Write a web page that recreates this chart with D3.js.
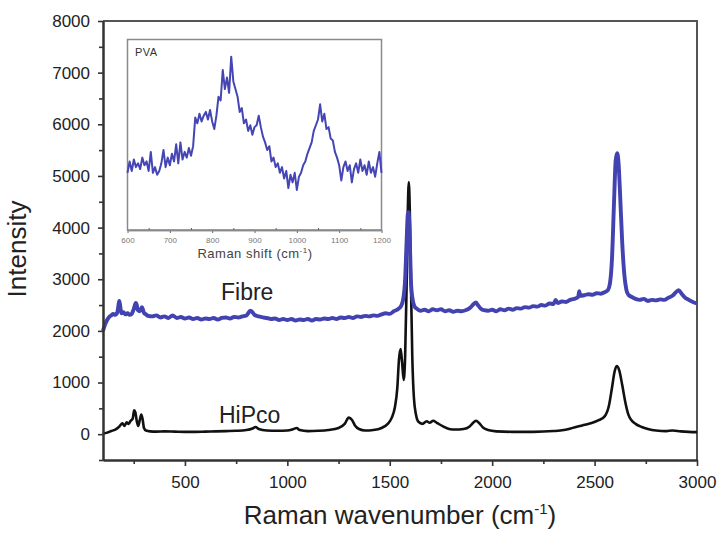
<!DOCTYPE html>
<html lang="en">
<head>
<meta charset="UTF-8">
<script src="https://cdn.jsdelivr.net/npm/d3@7/dist/d3.min.js"></script>
<title>Raman spectra</title>
<style>
  body { margin: 0; background: #fff; }
  svg { font-family: "Liberation Sans", Arial, sans-serif; }
</style>
</head>
<body>
<script>
// Main spectra: [Raman wavenumber (cm-1), intensity]
var hipco = [
  [100, 10], [120, 30], [140, 60], [160, 90], [180, 150], [195, 210], [205, 160],
  [215, 230], [225, 200], [235, 260], [245, 300], [252, 460], [258, 420], [265, 250],
  [272, 160], [280, 280], [287, 380], [293, 300], [300, 120], [310, 70], [330, 55],
  [360, 50], [400, 55], [450, 50], [500, 45], [550, 45], [600, 50], [650, 55],
  [700, 60], [750, 65], [800, 80], [830, 110], [845, 140], [860, 100], [900, 70],
  [950, 65], [1000, 70], [1030, 100], [1045, 120], [1060, 80], [1100, 60], [1150, 65],
  [1200, 80], [1250, 120], [1280, 200], [1300, 320], [1315, 280], [1330, 170],
  [1350, 100], [1380, 70], [1420, 80], [1460, 120], [1490, 200], [1510, 320],
  [1525, 520], [1537, 900], [1545, 1450], [1553, 1650], [1560, 1400], [1568, 1050],
  [1575, 1500], [1582, 2800], [1588, 4300], [1593, 4880], [1598, 4300], [1604, 2800],
  [1610, 1500], [1618, 700], [1628, 380], [1640, 240], [1660, 200], [1680, 250],
  [1695, 220], [1712, 260], [1730, 220], [1760, 150], [1790, 100], [1820, 90],
  [1860, 100], [1890, 150], [1910, 230], [1922, 260], [1935, 220], [1955, 130],
  [1980, 80], [2020, 55], [2100, 45], [2200, 45], [2300, 60], [2350, 80], [2400, 130],
  [2440, 170], [2480, 210], [2520, 270], [2550, 350], [2570, 550], [2585, 900],
  [2597, 1200], [2608, 1320], [2620, 1240], [2635, 950], [2650, 620], [2665, 380],
  [2680, 270], [2700, 200], [2730, 140], [2760, 100], [2800, 70], [2850, 60],
  [2880, 70], [2920, 55], [2960, 45], [3000, 40]
];

var fibre = [
  [100, 2000], [110, 2120], [120, 2210], [130, 2270], [140, 2300], [150, 2330],
  [160, 2310], [170, 2360], [180, 2580], [185, 2450], [190, 2340], [200, 2360],
  [210, 2320], [220, 2340], [230, 2310], [240, 2330], [250, 2420], [260, 2540],
  [265, 2500], [270, 2400], [280, 2380], [290, 2460], [300, 2350], [310, 2320],
  [320, 2290], [340, 2280], [360, 2300], [380, 2260], [400, 2280], [420, 2250],
  [440, 2300], [460, 2250], [480, 2270], [500, 2240], [520, 2260], [540, 2230],
  [560, 2250], [580, 2220], [600, 2240], [620, 2230], [640, 2250], [660, 2220],
  [680, 2250], [700, 2260], [720, 2240], [740, 2270], [760, 2260], [780, 2280],
  [800, 2300], [820, 2390], [830, 2360], [840, 2310], [860, 2280], [880, 2260],
  [900, 2250], [920, 2230], [940, 2240], [960, 2210], [980, 2230], [1000, 2210],
  [1020, 2230], [1040, 2200], [1060, 2220], [1080, 2210], [1100, 2230], [1120, 2200],
  [1140, 2230], [1160, 2220], [1180, 2240], [1200, 2230], [1220, 2250], [1240, 2230],
  [1260, 2260], [1280, 2250], [1300, 2270], [1320, 2250], [1340, 2280], [1360, 2270],
  [1380, 2290], [1400, 2280], [1420, 2300], [1440, 2290], [1460, 2320], [1480, 2340],
  [1500, 2330], [1520, 2380], [1540, 2420], [1555, 2480], [1565, 2600], [1575, 3000],
  [1582, 3700], [1588, 4250], [1592, 4300], [1597, 3900], [1603, 3000], [1610, 2650],
  [1620, 2480], [1635, 2420], [1650, 2390], [1670, 2410], [1690, 2380], [1710, 2420],
  [1730, 2400], [1750, 2420], [1770, 2380], [1790, 2400], [1810, 2370], [1830, 2390],
  [1850, 2380], [1870, 2400], [1890, 2440], [1910, 2520], [1920, 2550], [1930, 2500],
  [1945, 2430], [1960, 2400], [1980, 2390], [2000, 2410], [2020, 2380], [2040, 2420],
  [2060, 2400], [2080, 2430], [2100, 2410], [2120, 2440], [2140, 2430], [2160, 2460],
  [2180, 2450], [2200, 2480], [2220, 2470], [2240, 2500], [2260, 2490], [2280, 2530],
  [2300, 2520], [2310, 2600], [2320, 2540], [2340, 2570], [2360, 2560], [2380, 2600],
  [2400, 2620], [2420, 2660], [2425, 2770], [2430, 2680], [2450, 2690], [2470, 2710],
  [2490, 2700], [2510, 2730], [2530, 2720], [2550, 2750], [2565, 2790], [2575, 2920],
  [2585, 3400], [2595, 4500], [2603, 5300], [2610, 5440], [2617, 5250], [2625, 4600],
  [2635, 3700], [2645, 3100], [2655, 2800], [2665, 2700], [2680, 2660], [2700, 2620],
  [2720, 2600], [2740, 2620], [2760, 2580], [2780, 2600], [2800, 2590], [2820, 2610],
  [2840, 2600], [2860, 2640], [2880, 2680], [2900, 2760], [2910, 2790], [2925, 2720],
  [2940, 2650], [2960, 2600], [2980, 2560], [3000, 2530]
];

// Inset PVA spectrum, 600..1200 cm-1 every 5 cm-1 (arbitrary units)
var pvaStart = 600, pvaStep = 5;
var pva = [
  30, 36, 31, 37, 33, 35, 32, 38, 34, 36, 31, 41, 30, 33, 29, 31, 35, 42, 33, 38,
  34, 40, 36, 45, 35, 46, 37, 41, 38, 43, 39, 44, 59, 56, 61, 57, 60, 62, 58, 63,
  57, 53, 60, 70, 68, 84, 74, 80, 72, 91, 78, 74, 70, 62, 64, 56, 58, 52, 55, 50,
  54, 55, 60, 54, 49, 46, 42, 44, 36, 38, 33, 35, 30, 33, 27, 31, 22, 29, 25, 30,
  21, 28, 30, 34, 36, 40, 43, 46, 52, 55, 58, 66, 57, 61, 53, 54, 48, 47, 41, 38,
  34, 26, 33, 36, 31, 34, 25, 32, 35, 30, 37, 31, 34, 29, 36, 30, 33, 28, 35, 41,
  30
];

var xTicks = [500, 1000, 1500, 2000, 2500, 3000];
var xMinor = [250, 750, 1250, 1750, 2250, 2750];
var yTicks = [0, 1000, 2000, 3000, 4000, 5000, 6000, 7000, 8000];
var yMinor = [-500, 500, 1500, 2500, 3500, 4500, 5500, 6500, 7500];
var insetTicks = [600, 700, 800, 900, 1000, 1100, 1200];
var insetMinor = [650, 750, 850, 950, 1050, 1150];

var W = 720, H = 539;
var mLeft = 103, mRight = 697, mTop = 21, mBottom = 460;

var svg = d3.select("body").append("svg")
    .attr("width", W)
    .attr("height", H);

var x = d3.scaleLinear().domain([100, 3000]).range([mLeft, mRight]);
var y = d3.scaleLinear().domain([-500, 8000]).range([mBottom, mTop]);

var line = d3.line()
    .x(function(d) { return x(d[0]); })
    .y(function(d) { return y(d[1]); })
    .curve(d3.curveMonotoneX);

// frame (top and right)
svg.append("path")
    .attr("d", "M" + mLeft + "," + mTop + "H" + mRight + "V" + mBottom)
    .attr("fill", "none")
    .attr("stroke", "#555")
    .attr("stroke-width", 2);

// curves
svg.append("path")
    .datum(hipco)
    .attr("d", line)
    .attr("fill", "none")
    .attr("stroke", "#111")
    .attr("stroke-width", 2.6)
    .attr("stroke-linejoin", "round");

svg.append("path")
    .datum(fibre)
    .attr("d", line)
    .attr("fill", "none")
    .attr("stroke", "#4242b0")
    .attr("stroke-width", 3.9)
    .attr("stroke-linejoin", "round");

// axes
var xAxis = svg.append("g")
    .attr("transform", "translate(0," + mBottom + ")")
    .call(d3.axisBottom(x).tickValues(xTicks).tickFormat(d3.format("d"))
        .tickSize(6).tickPadding(10).tickSizeOuter(0));
svg.append("g")
    .attr("transform", "translate(0," + mBottom + ")")
    .call(d3.axisBottom(x).tickValues(xMinor).tickSize(4).tickFormat("").tickSizeOuter(0));

var yAxis = svg.append("g")
    .attr("transform", "translate(" + mLeft + ",0)")
    .call(d3.axisLeft(y).tickValues(yTicks).tickFormat(d3.format("d"))
        .tickSize(5).tickPadding(8).tickSizeOuter(0));
svg.append("g")
    .attr("transform", "translate(" + mLeft + ",0)")
    .call(d3.axisLeft(y).tickValues(yMinor).tickSize(4).tickFormat("").tickSizeOuter(0));

svg.selectAll(".domain").attr("stroke", "#333").attr("stroke-width", 2);
svg.selectAll(".tick line").attr("stroke", "#333").attr("stroke-width", 1.6);
xAxis.selectAll("text").style("font-size", "17px").attr("fill", "#222");
yAxis.selectAll("text").style("font-size", "17px").attr("fill", "#222");

// axis titles
var xTitle = svg.append("text")
    .attr("x", 400)
    .attr("y", 524)
    .attr("text-anchor", "middle")
    .style("font-size", "26px")
    .attr("fill", "#222");
xTitle.append("tspan").text("Raman wavenumber (cm");
xTitle.append("tspan").attr("dy", -10).style("font-size", "15px").text("-1");
xTitle.append("tspan").attr("dy", 10).text(")");

svg.append("text")
    .attr("transform", "translate(26,249) rotate(-90)")
    .attr("text-anchor", "middle")
    .style("font-size", "26px")
    .attr("fill", "#222")
    .text("Intensity");

// series labels
svg.append("text").attr("x", 221).attr("y", 300)
    .style("font-size", "23px").attr("fill", "#222").text("Fibre");
svg.append("text").attr("x", 219).attr("y", 423)
    .style("font-size", "23px").attr("fill", "#222").text("HiPco");

// inset
var ix = d3.scaleLinear().domain([600, 1200]).range([127.5, 381.5]);
var iy = d3.scaleLinear().domain([0, 100]).range([230, 39.5]);

var inset = svg.append("g");
inset.append("rect")
    .attr("x", ix(600)).attr("y", iy(100))
    .attr("width", ix(1200) - ix(600)).attr("height", iy(0) - iy(100))
    .attr("fill", "#fff")
    .attr("stroke", "#8a8a8a")
    .attr("stroke-width", 1.5);

var iline = d3.line()
    .x(function(d, i) { return ix(pvaStart + i * pvaStep); })
    .y(function(d) { return iy(d); });

inset.append("path")
    .datum(pva)
    .attr("d", iline)
    .attr("fill", "none")
    .attr("stroke", "#4545b5")
    .attr("stroke-width", 2)
    .attr("stroke-linejoin", "round");

var iAxis = inset.append("g")
    .attr("transform", "translate(0," + iy(0) + ")")
    .call(d3.axisBottom(ix).tickValues(insetTicks).tickFormat(d3.format("d"))
        .tickSize(3).tickPadding(4).tickSizeOuter(0));
inset.append("g")
    .attr("transform", "translate(0," + iy(0) + ")")
    .call(d3.axisBottom(ix).tickValues(insetMinor).tickSize(-2).tickFormat("").tickSizeOuter(0));
inset.selectAll(".domain").attr("stroke", "#8a8a8a").attr("stroke-width", 1.5);
inset.selectAll(".tick line").attr("stroke", "#666").attr("stroke-width", 1);
iAxis.selectAll("text").style("font-size", "8px").attr("fill", "#777");

var iTitle = inset.append("text")
    .attr("x", 255)
    .attr("y", 258)
    .attr("text-anchor", "middle")
    .style("font-size", "13px")
    .style("letter-spacing", "0.5px")
    .attr("fill", "#444");
iTitle.append("tspan").text("Raman shift (cm");
iTitle.append("tspan").attr("dy", -5).style("font-size", "8px").text("-1");
iTitle.append("tspan").attr("dy", 5).text(")");

inset.append("text").attr("x", 135).attr("y", 56)
    .style("font-size", "11px").style("letter-spacing", "0.5px")
    .attr("fill", "#333").text("PVA");
</script>
</body>
</html>
